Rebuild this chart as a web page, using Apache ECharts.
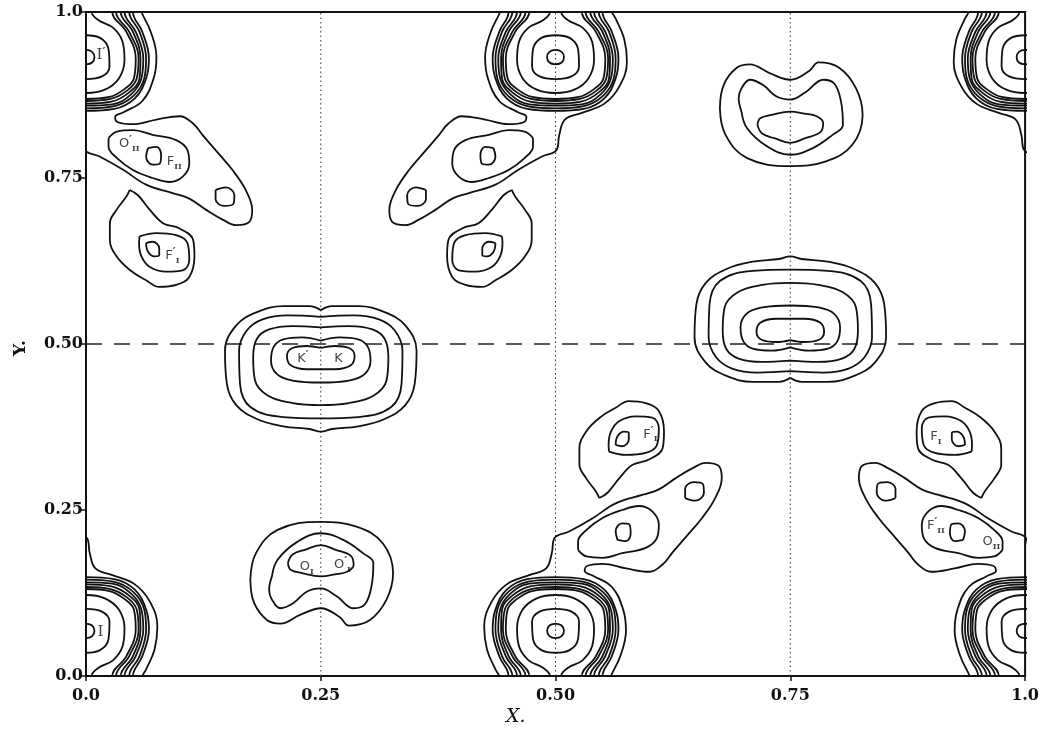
<!DOCTYPE html>
<html><head><meta charset="utf-8">
<script src="https://cdn.jsdelivr.net/npm/echarts@6/dist/echarts.min.js"></script>
<style>html,body{margin:0;padding:0;background:#fff}#c{width:1042px;height:732px}</style>
</head><body><div id="c"></div>
<script>
// ---------- tick labels ----------
const xTickValues = [0, 0.25, 0.5, 0.75, 1.0];
const xTickLabels = ['0.0', '0.25', '0.50', '0.75', '1.0'];
const yTickValues = [0, 0.25, 0.5, 0.75, 1.0];
const yTickLabels = ['0.0', '0.25', '0.50', '0.75', '1.0'];
const guideX = [0.25, 0.5, 0.75];   // dotted verticals
const guideY = [0.5];               // dashed horizontal

// ---------- peak I (read at the lower-left corner, centred on x = 0, y ~ 0.07) ----------
const iRing1 = [[0,0.079],[0.0065,0.076],[0.009,0.068],[0.0065,0.060],[0,0.057],[-0.0065,0.060],[-0.009,0.068],[-0.0065,0.076]];
const iRing2 = [[0,0.101],[0.017,0.097],[0.025,0.082],[0.024,0.056],[0.015,0.039],[0,0.035],[-0.015,0.039],[-0.024,0.056],[-0.025,0.082],[-0.017,0.097]];
const iRing3 = [[0.006,-0.01],[0.006,0],[0.013,0.012],[0.029,0.024],[0.039,0.045],[0.041,0.072],[0.035,0.100],[0.020,0.117],[0,0.122],[-0.020,0.117],[-0.035,0.100],[-0.041,0.072],[-0.039,0.045],[-0.029,0.024],[-0.013,0.012],[-0.006,0],[-0.006,-0.01]];
const iDense1 = [[-0.050,-0.01],[-0.050,0],[-0.060,0.03],[-0.067,0.07],[-0.064,0.10],[-0.052,0.13],[-0.030,0.146],[0,0.149],[0.030,0.146],[0.052,0.13],[0.064,0.10],[0.067,0.07],[0.060,0.03],[0.050,0],[0.050,-0.01]];
const iDense2 = [[-0.046,-0.01],[-0.046,0],[-0.057,0.03],[-0.064,0.07],[-0.062,0.10],[-0.050,0.127],[-0.029,0.142],[0,0.145],[0.029,0.142],[0.050,0.127],[0.062,0.10],[0.064,0.07],[0.057,0.03],[0.046,0],[0.046,-0.01]];
const iDense3 = [[-0.041,-0.01],[-0.041,0],[-0.053,0.03],[-0.061,0.07],[-0.059,0.10],[-0.048,0.124],[-0.028,0.139],[0,0.141],[0.028,0.139],[0.048,0.124],[0.059,0.10],[0.061,0.07],[0.053,0.03],[0.041,0],[0.041,-0.01]];
const iDense4 = [[-0.037,-0.01],[-0.037,0],[-0.050,0.03],[-0.058,0.07],[-0.057,0.10],[-0.046,0.121],[-0.027,0.135],[0,0.138],[0.027,0.135],[0.046,0.121],[0.057,0.10],[0.058,0.07],[0.050,0.03],[0.037,0],[0.037,-0.01]];
const iDense5 = [[-0.032,-0.01],[-0.032,0],[-0.046,0.03],[-0.056,0.07],[-0.054,0.10],[-0.044,0.118],[-0.026,0.131],[0,0.134],[0.026,0.131],[0.044,0.118],[0.054,0.10],[0.056,0.07],[0.046,0.03],[0.032,0],[0.032,-0.01]];
const iDense6 = [[-0.028,-0.01],[-0.028,0],[-0.043,0.03],[-0.053,0.07],[-0.051,0.10],[-0.042,0.115],[-0.025,0.128],[0,0.131],[0.025,0.128],[0.042,0.115],[0.051,0.10],[0.053,0.07],[0.043,0.03],[0.028,0],[0.028,-0.01]];

// ---------- O'II / FII / F'I group (read at the upper-left) ----------
const gLoopO = [[0.024,0.81],[0.033,0.82],[0.050,0.822],[0.071,0.815],[0.096,0.807],[0.108,0.792],[0.110,0.772],[0.103,0.752],[0.089,0.744],[0.071,0.750],[0.050,0.762],[0.033,0.780],[0.024,0.797]];
const gPeakF = [[0.066,0.795],[0.075,0.797],[0.080,0.785],[0.078,0.771],[0.071,0.770],[0.064,0.782]];
const gPeakTail = [[0.138,0.732],[0.149,0.736],[0.158,0.724],[0.157,0.711],[0.147,0.708],[0.138,0.718]];
const gOuter = [[0.057,1.01],[0.059,1.0],[0.069,0.97],[0.075,0.932],[0.072,0.90],[0.06,0.866],[0.04,0.849],[0.031,0.842],[0.034,0.834],[0.05,0.831],[0.075,0.838],[0.10,0.843],[0.114,0.832],[0.124,0.815],[0.138,0.792],[0.156,0.762],[0.170,0.732],[0.177,0.702],[0.174,0.684],[0.16,0.679],[0.146,0.687],[0.128,0.702],[0.11,0.719],[0.093,0.727],[0.064,0.74],[0.04,0.762],[0.015,0.782],[-0.001,0.792],[-0.004,0.815],[-0.01,0.838],[-0.028,0.848],[-0.052,0.862],[-0.068,0.888],[-0.076,0.925],[-0.073,0.96],[-0.064,0.99],[-0.06,1.0],[-0.058,1.01]];
const fOuter = [[0.0466,0.732],[0.0554,0.724],[0.068,0.702],[0.082,0.682],[0.0996,0.674],[0.114,0.657],[0.1155,0.632],[0.110,0.601],[0.096,0.589],[0.078,0.586],[0.064,0.596],[0.047,0.611],[0.0325,0.632],[0.0254,0.657],[0.0254,0.682],[0.0325,0.702],[0.043,0.722]];
const fInner = [[0.057,0.662],[0.075,0.667],[0.096,0.664],[0.108,0.652],[0.110,0.627],[0.103,0.611],[0.0855,0.609],[0.068,0.616],[0.059,0.632],[0.0565,0.652]];
const fPeak = [[0.064,0.652],[0.071,0.654],[0.078,0.644],[0.078,0.634],[0.073,0.632],[0.066,0.639]];

// ---------- K peak (centred on x = 0.25) ----------
const k1 = [[0.25,0.494],[0.265,0.497],[0.28,0.494],[0.286,0.482],[0.282,0.468],[0.265,0.462],[0.25,0.462],[0.235,0.462],[0.218,0.468],[0.214,0.482],[0.22,0.494],[0.235,0.497]];
const k2 = [[0.25,0.505],[0.27,0.51],[0.29,0.507],[0.3,0.496],[0.303,0.475],[0.297,0.455],[0.28,0.445],[0.25,0.442],[0.22,0.445],[0.203,0.455],[0.197,0.475],[0.2,0.496],[0.21,0.507],[0.23,0.51]];
const k3 = [[0.25,0.525],[0.28,0.527],[0.305,0.522],[0.318,0.508],[0.322,0.48],[0.32,0.445],[0.306,0.422],[0.28,0.411],[0.25,0.408],[0.22,0.411],[0.194,0.422],[0.18,0.445],[0.178,0.48],[0.182,0.508],[0.195,0.522],[0.22,0.527]];
const k4 = [[0.25,0.541],[0.285,0.543],[0.312,0.537],[0.329,0.52],[0.337,0.49],[0.336,0.44],[0.325,0.405],[0.29,0.39],[0.25,0.388],[0.21,0.39],[0.175,0.405],[0.164,0.44],[0.163,0.49],[0.171,0.52],[0.188,0.537],[0.215,0.543]];
const k5 = [[0.25,0.551],[0.262,0.557],[0.29,0.557],[0.318,0.548],[0.34,0.528],[0.352,0.49],[0.35,0.44],[0.34,0.408],[0.318,0.387],[0.29,0.376],[0.262,0.372],[0.25,0.368],[0.238,0.372],[0.21,0.376],[0.182,0.387],[0.16,0.408],[0.15,0.44],[0.148,0.49],[0.16,0.528],[0.182,0.548],[0.21,0.557],[0.238,0.557]];

// ---------- OI peak (centred on x = 0.25, y ~ 0.17) ----------
const o1 = [[0.215,0.17],[0.22,0.183],[0.233,0.19],[0.25,0.197],[0.266,0.19],[0.282,0.181],[0.285,0.167],[0.278,0.157],[0.265,0.153],[0.25,0.15],[0.23,0.155],[0.218,0.16]];
const o2 = [[0.198,0.15],[0.204,0.175],[0.225,0.202],[0.25,0.215],[0.274,0.205],[0.295,0.185],[0.306,0.17],[0.304,0.135],[0.297,0.108],[0.285,0.102],[0.267,0.12],[0.25,0.132],[0.235,0.127],[0.221,0.11],[0.207,0.102],[0.198,0.115],[0.195,0.13]];
const o3 = [[0.175,0.145],[0.181,0.185],[0.204,0.22],[0.25,0.232],[0.288,0.225],[0.316,0.2],[0.327,0.155],[0.32,0.115],[0.302,0.084],[0.28,0.076],[0.27,0.089],[0.25,0.102],[0.228,0.092],[0.207,0.079],[0.193,0.084],[0.179,0.11]];

// ---------- atom labels ----------
const labelPos  = [[0.016,0.935],[0.0155,0.066],[0.046,0.802],[0.094,0.774],[0.092,0.633],[0.231,0.478],[0.269,0.478],[0.235,0.165],[0.273,0.167],[0.601,0.364],[0.905,0.360],[0.905,0.226],[0.964,0.202]];
const labelMain = ['I','I','O','F','F','K','K','O','O','F','F','F','O'];
const labelPrime= [1,0,1,0,1,1,0,0,1,1,0,1,0];
const labelSub  = ['','','II','II','I','','','I','I','I','I','II','II'];

// ---------- plane-group symmetry of the projection ----------
const symId = p => p;
const symShift = p => [p[0] + 1, p[1]];
const symMirror = p => [0.5 - p[0], p[1]];
const symGlide = p => [p[0] + 0.5, 1 - p[1]];
const symInvert = p => [1 - p[0], 1 - p[1]];
const symInvertShift = p => [-p[0], 1 - p[1]];
const symFlip = p => [p[0], 1 - p[1]];
const symFlipShift = p => [p[0] + 1, 1 - p[1]];

const series = [];
function addSet(set, ops) {
  ops.forEach(op => set.forEach(c => {
    let pts = c[0].map(op);
    if (c[1]) pts = pts.concat([pts[0]]);
    series.push({
      type: 'line', data: pts, smooth: 0.4, symbol: 'none', showSymbol: false,
      lineStyle: { color: '#111', width: 1.8 }, clip: true, silent: true, z: 3
    });
  }));
}
addSet([[iRing1,1],[iRing2,1],[iRing3,0],[iDense1,0],[iDense2,0],[iDense3,0],[iDense4,0],[iDense5,0],[iDense6,0]],
  [symId, symShift, symFlip, symFlipShift, symMirror, symGlide]);
addSet([[gLoopO,1],[gPeakF,1],[gPeakTail,1],[gOuter,0],[fOuter,1],[fInner,1],[fPeak,1]],
  [symId, symShift, symMirror, symGlide, symInvert, symInvertShift]);
addSet([[k1,1],[k2,1],[k3,1],[k4,1],[k5,1]], [symId, symGlide]);
addSet([[o1,1],[o2,1],[o3,1]], [symId, symGlide]);

guideX.forEach(x => series.push({
  type: 'line', data: [[x, 0], [x, 1]], symbol: 'none', silent: true, z: 2,
  lineStyle: { color: '#333', width: 1, type: [1.5, 3] }
}));
guideY.forEach(y => series.push({
  type: 'line', data: [[0, y], [1, y]], symbol: 'none', silent: true, z: 2,
  lineStyle: { color: '#222', width: 1.3, type: [16, 12] }
}));

function labelText(i) {
  const main = labelMain[i];
  const serif = main === 'I';
  let s = serif ? '{r|' + main + '}' : '{m|' + main + '}';
  if (labelPrime[i]) s += '{p|\u2032}';
  if (labelSub[i]) s += '{s|' + labelSub[i] + '}';
  return s;
}
series.push({
  type: 'scatter', symbolSize: 0, silent: true, z: 5,
  data: labelPos.map((p, i) => [p[0], p[1], i]),
  label: {
    show: true, position: 'inside',
    formatter: prm => labelText(prm.data[2]),
    rich: {
      m: { fontFamily: 'DejaVu Sans', fontSize: 13, color: '#111', lineHeight: 18, verticalAlign: 'middle' },
      r: { fontFamily: 'DejaVu Serif', fontSize: 15, color: '#111', lineHeight: 18, verticalAlign: 'middle' },
      p: { fontFamily: 'DejaVu Sans', fontSize: 11, fontWeight: 'bold', color: '#111', lineHeight: 18, verticalAlign: 'top' },
      s: { fontFamily: 'DejaVu Serif', fontSize: 8, fontWeight: 'bold', color: '#111', lineHeight: 18, verticalAlign: 'bottom' }
    }
  }
});

const tickFont = { fontFamily: 'DejaVu Serif', fontSize: 16, fontWeight: 'bold', color: '#111' };
const chart = echarts.init(document.getElementById('c'), null, { renderer: 'canvas' });
chart.setOption({
  animation: false,
  backgroundColor: '#fff',
  grid: { left: 86, right: 12, top: 12, bottom: 56, show: true, borderColor: '#111', borderWidth: 2, backgroundColor: 'transparent' },
  xAxis: {
    type: 'value', min: 0, max: 1, interval: 0.25,
    axisLine: { show: true, lineStyle: { color: '#111', width: 2 } },
    axisTick: { show: true, length: 5, lineStyle: { color: '#111', width: 1.5 } },
    splitLine: { show: false },
    axisLabel: Object.assign({ margin: 12, formatter: v => xTickLabels[xTickValues.indexOf(Math.round(v * 4) / 4)] }, tickFont)
  },
  yAxis: {
    type: 'value', min: 0, max: 1, interval: 0.25,
    axisLine: { show: true, lineStyle: { color: '#111', width: 2 } },
    axisTick: { show: true, length: 6, lineStyle: { color: '#111', width: 1.5 } },
    splitLine: { show: false },
    axisLabel: Object.assign({ margin: 3, formatter: v => yTickLabels[yTickValues.indexOf(Math.round(v * 4) / 4)] }, tickFont)
  },
  graphic: [
    { type: 'text', left: 506, top: 708, style: { text: 'X.', font: 'italic 19px "DejaVu Serif"', fill: '#111' } },
    { type: 'text', x: 12, y: 356, rotation: Math.PI / 2, style: { text: 'Y.', font: 'bold 17px "DejaVu Serif"', fill: '#111' } }
  ],
  series: series
});
</script></body></html>
